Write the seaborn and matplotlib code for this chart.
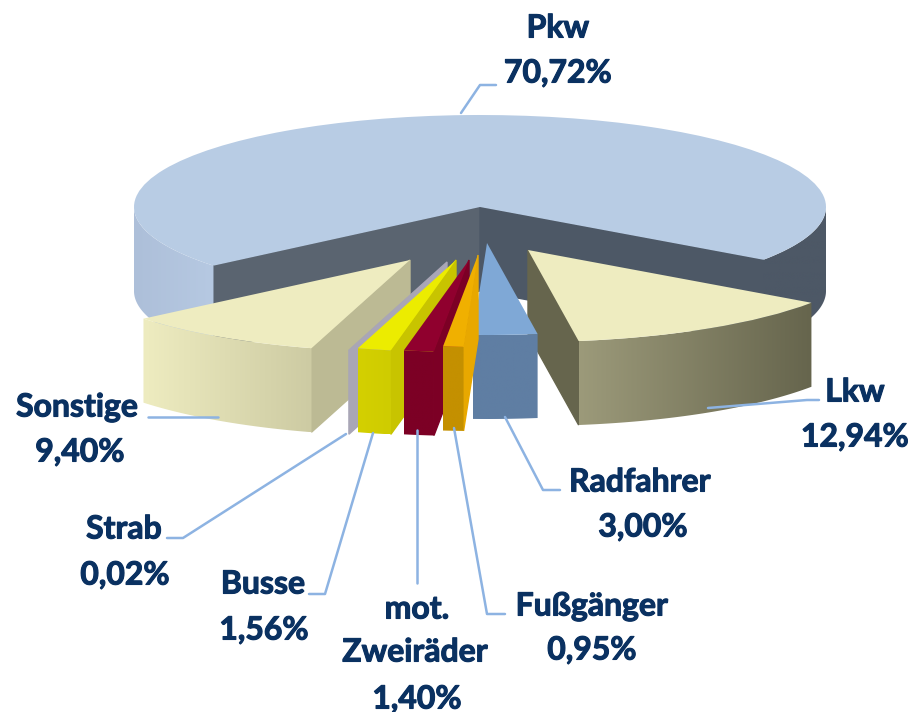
import matplotlib
matplotlib.use("Agg")
import matplotlib.patheffects as pe
import matplotlib.pyplot as plt
import numpy as np
import seaborn as sns
from matplotlib.patches import Polygon

# values, counter clockwise starting with the big slice
CATEGORIES = ["Pkw", "Sonstige", "Strab", "Busse", "mot. Zweiräder", "Fußgänger", "Radfahrer", "Lkw"]
VALUES = [70.72, 9.40, 0.02, 1.56, 1.40, 0.95, 3.00, 12.94]

TOP_COLORS = ["#b8cce4", "#eeecc0", "#a9a6b6", "#ecec00", "#90002e", "#f0b000", "#7fa8d6", "#eeecc0"]
WALL_LEFT = ["#adbfd9", "#eeecc0", "#a9a6b6", "#d4d000", "#7c0025", "#c49000", "#5f7ea3", "#9c9a7a"]
WALL_RIGHT = ["#4d5866", "#cdcba3", "#a9a6b6", "#cfcc00", "#7c0025", "#c49000", "#5f7ea3", "#66654d"]
CUT_COLORS = [None, "#bcba94", "#a9a6b6", "#c8c400", "#7c0025", "#e8a800", None, "#66654d"]
CUT_EDGE = [None, 2, 2, 2, 2, 2, None, 1]

# where each tip sits on the page, in pixels
TIP_X = [480, 410, 447, 456, 469, 478, 487, 528]
TIP_Y = [207, 260, 262, 260, 260, 255, 243, 250]
DRAW_ORDER = [1, 7, 6, 2, 3, 4, 5]

CENTER_X, CENTER_Y = 480, 207
RX, RY = 346, 92
DEPTH = 84 / RY
WIDTH, HEIGHT = 912, 712

TEXT_COLOR = "#0a3161"
LINE_COLOR = "#8db3e2"

sns.set_theme(style="white")
plt.rcParams["font.family"] = ["Lato", "DejaVu Sans"]


def dx(px):
    return (np.asarray(px, dtype=float) - CENTER_X) / RX


def dy(py):
    return (CENTER_Y - np.asarray(py, dtype=float)) / RY


def arc(center, theta1, theta2):
    angles = np.radians(np.linspace(theta1, theta2, 80))
    return center[0] + np.cos(angles), center[1] + np.sin(angles)


def draw_wall(ax, center, theta1, theta2, left, right, zorder):
    # curved outside of a slice, filled with a left to right gradient
    xs, ys = arc(center, theta1, theta2)
    pts = np.vstack([np.column_stack([xs, ys]), np.column_stack([xs, ys - DEPTH])[::-1]])
    clip = Polygon(pts, transform=ax.transData, facecolor="none", edgecolor="none")
    ax.add_patch(clip)
    cmap = sns.blend_palette([left, right], as_cmap=True)
    img = ax.imshow(np.linspace(0, 1, 128).reshape(1, -1), cmap=cmap, aspect="auto", zorder=zorder,
                    extent=(pts[:, 0].min(), pts[:, 0].max(), pts[:, 1].min(), pts[:, 1].max()),
                    interpolation="bilinear")
    img.set_clip_path(clip)


def draw_cut(ax, center, theta, color, zorder):
    x_out = center[0] + np.cos(np.radians(theta))
    y_out = center[1] + np.sin(np.radians(theta))
    pts = [center, (x_out, y_out), (x_out, y_out - DEPTH), (center[0], center[1] - DEPTH)]
    ax.add_patch(Polygon(pts, facecolor=color, edgecolor=color, linewidth=1, zorder=zorder))


def draw_pie(ax):
    wedges, _ = ax.pie(VALUES, startangle=-35, wedgeprops={"linewidth": 0}, colors=TOP_COLORS)

    # big slice: two dark cuts, then the walls on both sides
    big = wedges[0]
    big.set_zorder(5)
    draw_cut(ax, (0, 0), big.theta2, "#5a6470", 2)
    draw_cut(ax, (0, 0), big.theta1, "#4d5866", 2)
    draw_wall(ax, (0, 0), 180, big.theta2, "#adbfd9", "#b6c9e2", 3)
    draw_wall(ax, (0, 0), big.theta1, 0, "#4d5866", "#4d5866", 3)

    for rank, i in enumerate(DRAW_ORDER):
        base = 10 + rank * 5
        center = (float(dx(TIP_X[i])), float(dy(TIP_Y[i])))
        wedge = wedges[i]
        wedge.set_center(center)
        wedge.set_zorder(base + 2)
        if CUT_EDGE[i] == 1:
            draw_cut(ax, center, wedge.theta1, CUT_COLORS[i], base)
        elif CUT_EDGE[i] == 2:
            draw_cut(ax, center, wedge.theta2, CUT_COLORS[i], base)
        draw_wall(ax, center, wedge.theta1, wedge.theta2, WALL_LEFT[i], WALL_RIGHT[i], base + 1)

    ax.set_aspect("auto")
    ax.set_xlim(dx(0), dx(WIDTH))
    ax.set_ylim(dy(HEIGHT), dy(0))


def draw_labels(ax):
    leaders = [
        ([461, 480, 496], [113, 85, 85]),
        ([218, 148], [417, 417]),
        ([346, 183, 167], [434, 538, 538]),
        ([373, 325, 309], [433, 594, 594]),
        ([417, 417], [430, 583]),
        ([454, 487, 505], [428, 614, 614]),
        ([505, 543, 560], [417, 490, 490]),
        ([708, 807, 819], [408, 400, 400]),
    ]
    for xs, ys in leaders:
        ax.plot(dx(xs), dy(ys), color=LINE_COLOR, linewidth=1.8, zorder=60)

    names = ["Pkw", "Sonstige", "Strab", "Busse", "mot.", "Fußgänger", "Radfahrer", "Lkw"]
    name_pos = [(558, 28), (77, 407), (124, 529), (263, 584), (417, 609), (592, 606), (640, 482), (855, 392)]
    pct_pos = [(558, 73), (80, 452), (125, 575), (264, 630), (417, 699), (592, 650), (643, 527), (855, 437)]
    style = {"color": TEXT_COLOR, "fontsize": 23, "fontweight": "bold", "ha": "center", "va": "center", "zorder": 70,
             "path_effects": [pe.withStroke(linewidth=0.8, foreground=TEXT_COLOR)]}
    for name, value, (nx, ny), (px, py) in zip(names, VALUES, name_pos, pct_pos):
        ax.text(dx(nx), dy(ny), name, **style)
        ax.text(dx(px), dy(py), f"{value:.2f}%".replace(".", ","), **style)
    ax.text(dx(415), dy(652), "Zweiräder", **style)


def generate_plot():
    fig = plt.figure(figsize=(WIDTH / 100, HEIGHT / 100), dpi=100)
    ax = fig.add_axes([0, 0, 1, 1])
    draw_pie(ax)
    draw_labels(ax)
    ax.axis("off")
    fig.savefig("out.png", dpi=100, facecolor="white")


if __name__ == "__main__":
    generate_plot()
